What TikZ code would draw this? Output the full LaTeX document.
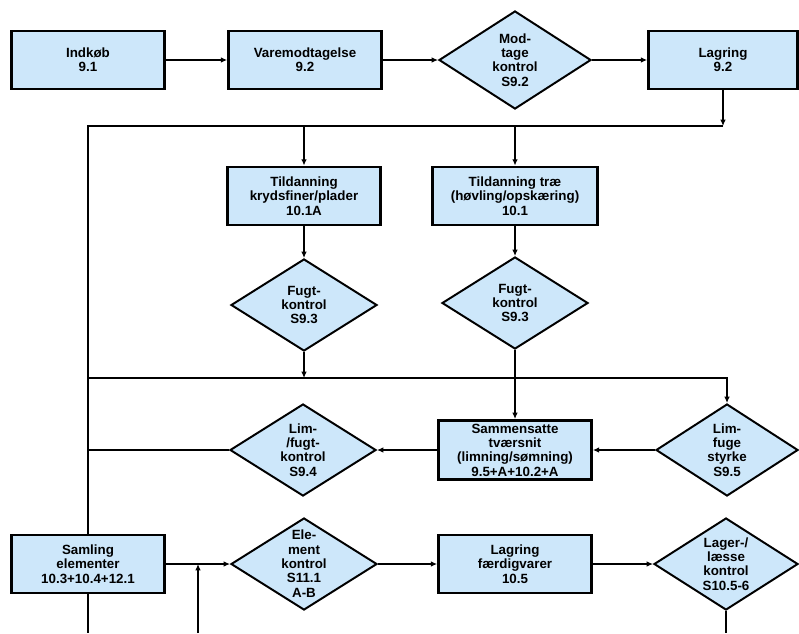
\documentclass[tikz,border=0pt]{standalone}
\usepackage{fontspec}
\setmainfont{Liberation Sans}
\usepackage{tikz}
\usetikzlibrary{shapes, positioning, arrows.meta}

\definecolor{boxblue}{RGB}{205,231,250}
\newcommand{\dtext}[1]{\smash{\raisebox{-3.5pt}{\begin{tabular}{@{}c@{}}#1\end{tabular}}}}

\begin{document}
\begin{tikzpicture}[x=0.025cm, y=-0.025cm, >={Latex[length=4.5pt,width=4pt]}, line width=0.9pt, font=\bfseries\fontsize{9.5}{10.2}\selectfont]
\tikzstyle{box}=[draw, rectangle, line width=2pt, fill=boxblue, minimum width=3.82cm, minimum height=1.45cm, align=center, inner sep=1pt]
\tikzstyle{dia}=[draw, diamond, line width=1.4pt, fill=boxblue, minimum width=3.65cm, minimum height=2.3cm, inner sep=0pt]

\useasboundingbox (0,0) rectangle (799,633);

\node[box]    (A) at (88,60)   {Indkøb\\9.1};
\node[box]    (B) at (305,60)  {Varemodtagelse\\9.2};
\node[dia, minimum width=3.8cm, minimum height=2.45cm] (C) at (515,60) {\dtext{Mod-\\tage\\kontrol\\S9.2}};
\node[box, minimum width=3.72cm]    (D) at (723,60)  {Lagring\\9.2};

\node[box]    (E) at (304,196) {Tildanning\\krydsfiner/plader\\10.1A};
\node[box, minimum width=4.12cm]    (F) at (515,196) {Tildanning træ\\(høvling/opskæring)\\10.1};

\node[dia]    (G) at (304,305) {\dtext{Fugt-\\kontrol\\S9.3}};
\node[dia]    (H) at (515,303) {\dtext{Fugt-\\kontrol\\S9.3}};

\node[box, minimum height=1.48cm]    (I) at (515,450) {Sammensatte\\tværsnit\\(limning/sømning)\\9.5+A+10.2+A};
\node[dia, minimum width=3.55cm]    (J) at (727,450) {\dtext{Lim-\\fuge\\styrke\\S9.5}};
\node[dia]    (K) at (303,450) {\dtext{Lim-\\/fugt-\\kontrol\\S9.4}};

\node[box]    (L) at (88,564)  {Samling\\elementer\\10.3+10.4+12.1};
\node[dia]    (M) at (304,564) {\dtext{Ele-\\ment\\kontrol\\S11.1\\A-B}};
\node[box]    (N) at (515,564) {Lagring\\færdigvarer\\10.5};
\node[dia, minimum width=3.6cm]    (O) at (726,564) {\dtext{Lager-/\\læsse\\kontrol\\S10.5-6}};

\coordinate (top)  at (88,126);
\coordinate (mid)  at (88,378);
\coordinate (bot)  at (88,633);
\coordinate (bot2) at (198,633);

\path[->]
(A.east) edge (B.west)
(B.east) edge (C.west)
(C.east) edge (D.west)
(D.south) edge (D.south |- top)
(E.north |- top) edge (E.north)
(F.north |- top) edge (F.north)
(E.south) edge (G.north)
(F.south) edge (H.north)
(G.south) edge (G.south |- mid)
(H.south) edge (I.north)
(J.west) edge (I.east)
(I.west) edge (K.east)
(L.east) edge (M.west)
(M.east) edge (N.west)
(N.east) edge (O.west)
(bot2) edge (bot2 |- L.east);

\draw (D.south |- top) -- (top) -- (L.north);
\draw[->] (mid) -- (mid -| J.north) -- (J.north);
\draw (K.west) -- (K.west -| top);
\draw (L.south) -- (bot);
\draw (O.south) -- (O.south |- bot);

\end{tikzpicture}
\end{document}
